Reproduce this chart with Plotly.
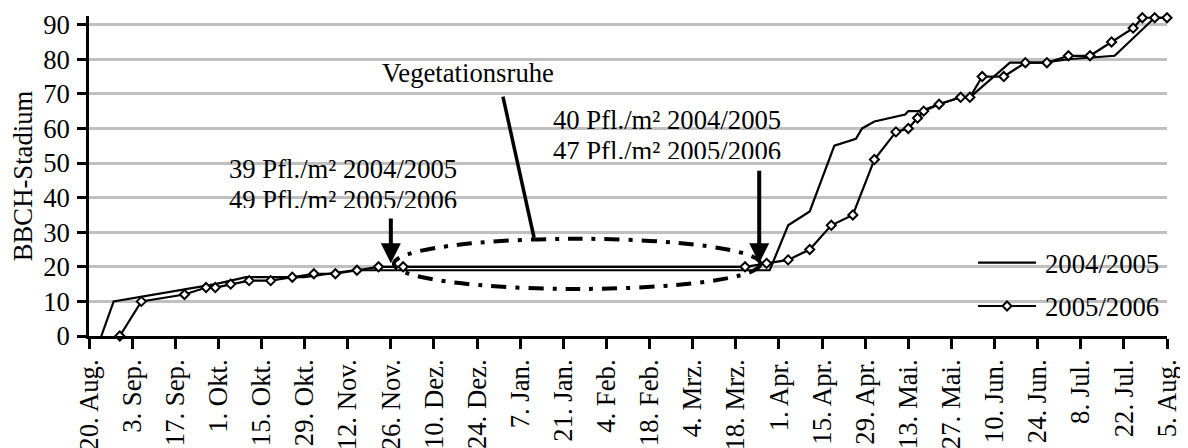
import pandas as pd
import plotly.graph_objects as go

# ---------------- data ----------------
tick_labels = ["20. Aug.", "3. Sep.", "17. Sep.", "1. Okt.", "15. Okt.", "29. Okt.",
               "12. Nov.", "26. Nov.", "10. Dez.", "24. Dez.", "7. Jan.", "21. Jan.",
               "4. Feb.", "18. Feb.", "4. Mrz.", "18. Mrz.", "1. Apr.", "15. Apr.",
               "29. Apr.", "13. Mai.", "27. Mai.", "10. Jun.", "24. Jun.", "8. Jul.",
               "22. Jul.", "5. Aug."]

dates_0405 = ["24.08.", "28.08.", "30.09.", "10.10.", "29.10.", "14.11.", "29.03.",
              "04.04.", "11.04.", "19.04.", "26.04.", "28.04.", "02.05.", "12.05.",
              "13.05.", "17.05.", "23.05.", "30.05.", "02.06.", "15.06.", "26.06.",
              "04.07.", "19.07.", "01.08.", "05.08."]
bbch_0405 = [0, 10, 15, 17, 17, 19, 19, 32, 36, 55, 57, 60, 62, 64, 65, 65, 67, 69,
             69, 79, 79, 80, 81, 92, 92]

dates_0506 = ["30.08.", "06.09.", "20.09.", "27.09.", "30.09.", "05.10.", "11.10.",
              "18.10.", "25.10.", "01.11.", "08.11.", "15.11.", "22.11.", "30.11.",
              "21.03.", "28.03.", "04.04.", "11.04.", "18.04.", "25.04.", "02.05.",
              "09.05.", "13.05.", "16.05.", "18.05.", "23.05.", "30.05.", "02.06.",
              "06.06.", "13.06.", "20.06.", "27.06.", "04.07.", "11.07.", "18.07.",
              "25.07.", "28.07.", "01.08.", "05.08."]
bbch_0506 = [0, 10, 12, 14, 14, 15, 16, 16, 17, 18, 18, 19, 20, 20,
             20, 21, 22, 25, 32, 35, 51, 59, 60, 63, 65, 67, 69, 69, 75, 75,
             79, 79, 81, 81, 85, 89, 92, 92, 92]

series_names = ["2004/2005", "2005/2006"]

# ---------------- helpers ----------------
START = pd.Timestamp("2004-08-20")
END = pd.Timestamp("2005-08-05")


def season_date(s):
    d, m = int(s[:2]), int(s[3:5])
    year = 2004 if (m > 8 or (m == 8 and d >= 20)) else 2005
    return pd.Timestamp(year, m, d)


def day(n):
    return (START + pd.Timedelta(days=n)).isoformat()


x_0405 = [season_date(s) for s in dates_0405]
x_0506 = [season_date(s) for s in dates_0506]
tick_vals = list(pd.date_range(START, END, freq="14D"))

FONT = "Liberation Serif, Times New Roman, serif"
FS = 26.7

fig = go.Figure()
fig.add_trace(go.Scatter(
    x=x_0405, y=bbch_0405, name=series_names[0], mode="lines",
    line=dict(color="black", width=2.2), cliponaxis=False))
fig.add_trace(go.Scatter(
    x=x_0506, y=bbch_0506, name=series_names[1], mode="lines+markers",
    line=dict(color="black", width=2.2),
    marker=dict(symbol="diamond", size=7, color="white",
                line=dict(color="black", width=2)),
    cliponaxis=False))

shapes = []
# white boxes behind text / legend (hide gridlines)
for (x0, x1, y0, y1) in [(0.251, 0.460, 0.7375, 0.93),
                         (0.1122, 0.3673, 0.403, 0.5875),
                         (0.4119, 0.667, 0.534, 0.7375),
                         (0.544, 0.667, 0.73, 0.77),
                         (0.8145, 0.997, 0.019, 0.29)]:
    shapes.append(dict(type="rect", xref="paper", yref="paper", x0=x0, x1=x1,
                       y0=y0, y1=y1, fillcolor="white", line=dict(width=0),
                       layer="between"))
# ellipse "Vegetationsruhe"
shapes.append(dict(type="circle", xref="x", yref="y", x0=day(99), x1=day(218),
                   y0=13.6, y1=28.1, line=dict(color="black", width=4,
                                                dash="15px,9px,4px,9px"),
                   layer="above"))
# pointer line from label to ellipse
shapes.append(dict(type="line", xref="x", yref="y", x0=day(134.4), y0=69.2,
                   x1=day(144.5), y1=28.4, line=dict(color="black", width=3.5),
                   layer="above"))

# legend (drawn as key lines + text, like the original)
LEG_X0, LEG_X1, LEG_TXT = 0.8247, 0.8785, 0.885
LEG_Y = [0.2291, 0.09375]
LEG_TXT_Y = [0.225, 0.0891]
for yl in LEG_Y:
    shapes.append(dict(type="line", xref="paper", yref="paper", x0=LEG_X0,
                       x1=LEG_X1, y0=yl, y1=yl, line=dict(color="black", width=2.2),
                       layer="above"))
xc, yc, dx, dy = (LEG_X0 + LEG_X1) / 2, LEG_Y[1], 0.00417, 0.01406
shapes.append(dict(type="path", xref="paper", yref="paper",
                   path=f"M{xc},{yc + dy} L{xc + dx},{yc} L{xc},{yc - dy} "
                        f"L{xc - dx},{yc} Z",
                   fillcolor="white", line=dict(color="black", width=2),
                   layer="above"))

common = dict(xref="paper", yref="paper", showarrow=False, xanchor="center",
              font=dict(size=FS))
annotations = [
    dict(text="Vegetationsruhe", x=0.3516, y=0.8209, yanchor="middle", **common),
    dict(text="39 Pfl./m² 2004/2005", x=0.2356, y=0.5234, yanchor="middle", **common),
    dict(text="49 Pfl./m² 2005/2006", x=0.2356, y=0.4778, yanchor="top",
         valign="top", height=23, width=240, **common),
    dict(text="40 Pfl./m² 2004/2005", x=0.536, y=0.675, yanchor="middle", **common),
    dict(text="47 Pfl./m² 2005/2006", x=0.536, y=0.6309, yanchor="top",
         valign="top", height=23, width=240, **common),
    dict(text="", x=day(98), y=21.0, ax=day(98), ay=34.4, xref="x", yref="y",
         axref="x", ayref="y", showarrow=True, arrowhead=2, arrowsize=1,
         arrowwidth=4, arrowcolor="black"),
    dict(text="", x=day(217.6), y=21.0, ax=day(217.6), ay=48.2, xref="x", yref="y",
         axref="x", ayref="y", showarrow=True, arrowhead=2, arrowsize=1,
         arrowwidth=4, arrowcolor="black"),
]
for name, ty in zip(series_names, LEG_TXT_Y):
    annotations.append(dict(text=name, xref="paper", yref="paper", x=LEG_TXT,
                            y=ty, xanchor="left", yanchor="middle",
                            showarrow=False, font=dict(size=FS)))

fig.update_layout(
    width=1180, height=440,
    margin=dict(l=81, r=21, t=8, b=112, pad=0),
    paper_bgcolor="white", plot_bgcolor="white",
    font=dict(family=FONT, size=FS, color="black"),
    showlegend=False,
    shapes=shapes, annotations=annotations,
)
fig.update_xaxes(type="date", range=[START, END], tickvals=tick_vals,
                 ticktext=tick_labels, tickangle=-90, ticks="outside", ticklen=10,
                 tickwidth=2.5, tickcolor="black", showline=True, linewidth=2.5,
                 linecolor="black", showgrid=False, zeroline=False, automargin=False,
                 tickfont=dict(size=FS))
fig.update_yaxes(range=[0, 92.5], tickvals=list(range(0, 91, 10)), ticks="outside",
                 ticklen=9, tickwidth=2.5, tickcolor="black", showline=True,
                 linewidth=2.5, linecolor="black", showgrid=True,
                 gridcolor="#c0c0c0", gridwidth=2.5, zeroline=False,
                 automargin=False, tickfont=dict(size=FS), ticklabelstandoff=2,
                 title=dict(text="BBCH-Stadium", font=dict(size=FS), standoff=8))

fig.write_html("out.html")
